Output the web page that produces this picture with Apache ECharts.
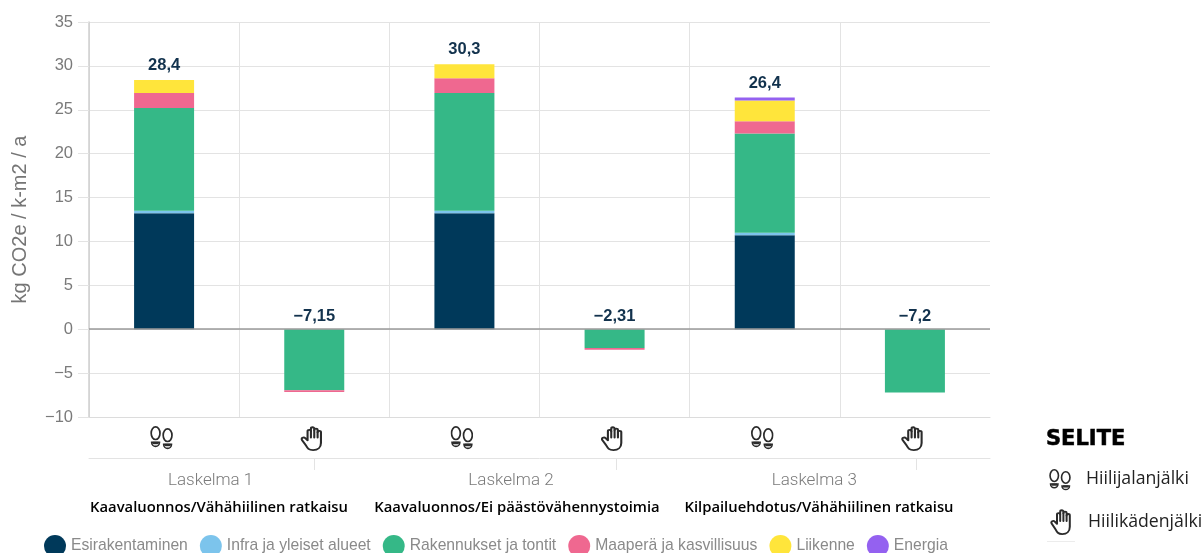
<!DOCTYPE html>
<html>
<head>
<meta charset="utf-8">
<style>html,body{margin:0;background:#fff}#chart{width:1204px;height:553px}</style>
<script src="https://cdn.jsdelivr.net/npm/echarts@6/dist/echarts.min.js"></script>
</head>
<body>
<div id="chart"></div>
<script>
const categories = ['Hiilijalanjälki', 'Hiilikädenjälki', 'Hiilijalanjälki', 'Hiilikädenjälki', 'Hiilijalanjälki', 'Hiilikädenjälki']
const groups = ['Laskelma 1', 'Laskelma 2', 'Laskelma 3']
const groupNotes = ['Kaavaluonnos/Vähähiilinen ratkaisu', 'Kaavaluonnos/Ei päästövähennystoimia', 'Kilpailuehdotus/Vähähiilinen ratkaisu']

const esirakentaminen = [13.2, 0, 13.2, 0, 10.7, 0]
const infra = [0.3, 0, 0.3, 0, 0.3, 0]
const rakennukset = [11.7, -6.95, 13.4, -2.13, 11.3, -7.2]
const maapera = [1.7, -0.2, 1.7, -0.2, 1.4, 0]
const liikenne = [1.5, 0, 1.6, 0, 2.35, 0]
const energia = [0, 0, 0, 0, 0.35, 0]

const totalLabels = ['28,4', '−7,15', '30,3', '−2,31', '26,4', '−7,2']
const labelAnchors = [28.4, -0.2, 30.2, -0.2, 26.4, -0.2]

// kuvakkeet svg:nä
const svgUri = s => 'data:image/svg+xml;charset=utf-8,' + encodeURIComponent(s)
const foot = svgUri('<svg xmlns="http://www.w3.org/2000/svg" width="46" height="50" viewBox="0 0 23 25" preserveAspectRatio="none" fill="none" stroke="#2b2b2b" stroke-width="1.7">' +
  '<ellipse cx="5.5" cy="7.2" rx="4.4" ry="6.3"/><path d="M1.6 16.4h7.8a3.9 4 0 0 1-7.8 0z" stroke-width="1.6"/><path d="M2.6 17h5.8" stroke-width="2.4"/>' +
  '<ellipse cx="17.5" cy="9.2" rx="4.4" ry="6.3"/><path d="M13.6 18.4h7.8a3.9 4 0 0 1-7.8 0z" stroke-width="1.6"/><path d="M14.6 19h5.8" stroke-width="2.4"/></svg>')
const hand = svgUri('<svg xmlns="http://www.w3.org/2000/svg" width="46" height="50" viewBox="1 1 22 28" preserveAspectRatio="none" fill="none" stroke="#2b2b2b" stroke-width="2" stroke-linecap="round" stroke-linejoin="round">' +
  '<path d="M8 17V7a1.6 1.6 0 0 1 3.2 0V4a1.6 1.6 0 0 1 3.2 0v1.5a1.6 1.6 0 0 1 3.2 0V8a1.6 1.6 0 0 1 3.2 0V20c0 5-3 8-7.5 8S8 26 6 22L2.8 17c-1.5-2.5 1.5-4 3-2.5L8 17"/>' +
  '<path d="M11.2 7v7M14.4 5.5v8.5M17.6 8v6"/></svg>')

const stackSeries = (name, data, color) => ({ name, type: 'bar', stack: 'total', data, barWidth: 60, itemStyle: { color } })

const seriesList = [
  stackSeries('Esirakentaminen', esirakentaminen, '#00395a'),
  stackSeries('Infra ja yleiset alueet', infra, '#7cc4ec'),
  stackSeries('Rakennukset ja tontit', rakennukset, '#35b887'),
  stackSeries('Maaperä ja kasvillisuus', maapera, '#ef6890'),
  stackSeries('Liikenne', liikenne, '#ffe53b'),
  stackSeries('Energia', energia, '#9461f0'),
  {
    name: 'summa', type: 'scatter', symbolSize: 0, data: labelAnchors, z: 5, silent: true,
    itemStyle: { opacity: 1 },
    label: {
      show: true, position: 'top', distance: 6, color: '#12324d', fontSize: 16.5, fontWeight: 'bold',
      fontFamily: 'Liberation Sans', formatter: p => totalLabels[p.dataIndex]
    },
    markLine: {
      silent: true, symbol: 'none', label: { show: false }, animation: false,
      lineStyle: { color: '#9a9a9a', width: 1.5, type: 'solid' }, data: [{ yAxis: 0 }]
    }
  }
]

const noteTexts = groupNotes.map((t, i) => ({
  type: 'text', x: [219, 517, 819][i], y: 508,
  style: { text: t, fill: '#000', font: '600 14.8px "Open Sans"', textAlign: 'center', textVerticalAlign: 'middle' }
}))

const chart = echarts.init(document.getElementById('chart'))
chart.setOption({
  animation: false,
  backgroundColor: '#fff',
  grid: { left: 89, right: 214, top: 22, bottom: 136 },
  legend: {
    left: 39, top: 530, itemWidth: 22, itemHeight: 22, itemGap: 12, icon: 'circle',
    data: seriesList.slice(0, 6).map(s => s.name),
    textStyle: { color: '#8a8a8a', fontSize: 15.7, fontFamily: 'Liberation Sans' }
  },
  xAxis: [
    {
      type: 'category', data: categories,
      axisLine: { onZero: false, lineStyle: { color: '#dcdcdc' } },
      axisTick: { length: 11, lineStyle: { color: '#e3e3e3' } },
      splitLine: { show: true, showMaxLine: false, lineStyle: { color: '#e3e3e3' } },
      axisLabel: {
        margin: 9, padding: [0, 5, 0, 0],
        formatter: (v, i) => i % 2 ? '{hand|}' : '{foot|}',
        rich: {
          foot: { width: 23, height: 25, backgroundColor: { image: foot } },
          hand: { width: 23, height: 25, backgroundColor: { image: hand } }
        }
      }
    },
    {
      type: 'value', position: 'bottom', offset: 41, min: 0, max: 6,
      axisLine: { show: true, onZero: false, lineStyle: { color: '#e3e3e3' } },
      axisTick: { show: true, length: 12, customValues: [1.5, 3.51, 5.51], lineStyle: { color: '#e3e3e3' } },
      splitLine: { show: false },
      axisLabel: {
        margin: 14, color: '#7a7a7a', fontSize: 17, fontFamily: 'Roboto', fontWeight: 300,
        customValues: [0.81, 2.81, 4.83],
        formatter: v => groups[Math.floor(v / 2)]
      }
    }
  ],
  yAxis: {
    type: 'value', min: -10, max: 35, interval: 5,
    name: 'kg CO2e / k-m2 / a', nameLocation: 'middle', nameGap: 59,
    nameTextStyle: { color: '#757575', fontSize: 20, fontFamily: 'Liberation Sans' },
    axisLine: { show: true, onZero: false, lineStyle: { color: '#cfcfcf', width: 1.5 } },
    axisTick: { show: true, length: 11, lineStyle: { color: '#e3e3e3' } },
    splitLine: { lineStyle: { color: '#e3e3e3' } },
    axisLabel: { color: '#7a7a7a', fontSize: 16.5, fontFamily: 'Liberation Sans', margin: 16, formatter: v => String(v).replace('-', '−') }
  },
  series: seriesList,
  graphic: [
    ...noteTexts,
    { type: 'text', x: 1046, y: 440, style: { text: 'SELITE', fill: '#000', font: 'bold 21px "DejaVu Sans"', textVerticalAlign: 'middle', stroke: '#000', lineWidth: 0.5 } },
    { type: 'image', x: 1049, y: 469, style: { image: foot, width: 22, height: 23 } },
    { type: 'text', x: 1086, y: 479, style: { text: 'Hiilijalanjälki', fill: '#222', font: '17.7px "Open Sans"', textVerticalAlign: 'middle' } },
    { type: 'image', x: 1050, y: 509, style: { image: hand, width: 22, height: 26 } },
    { type: 'text', x: 1088, y: 522, style: { text: 'Hiilikädenjälki', fill: '#222', font: '17.7px "Open Sans"', textVerticalAlign: 'middle' } },
    { type: 'rect', shape: { x: 1047, y: 541, width: 28, height: 1 }, style: { fill: '#ececec' } }
  ]
})
window.addEventListener('resize', () => chart.resize())
</script>
</body>
</html>
